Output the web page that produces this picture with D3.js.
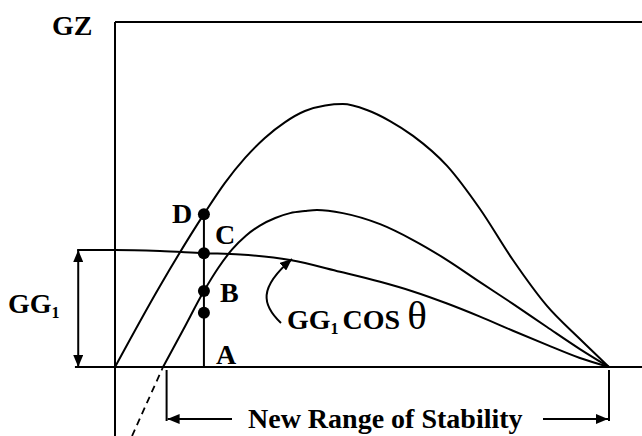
<!DOCTYPE html>
<html>
<head>
<meta charset="utf-8">
<script src="https://d3js.org/d3.v7.min.js"></script>
<style>
  body { margin: 0; background: #fff; }
  text { font-family: "Liberation Serif", "Times New Roman", serif; fill: #000; }
</style>
</head>
<body>
<div id="chart"></div>
<script>
// Heel angle (deg) and GZ values
var upperAngle = [0, 8.2, 16.2, 20.0, 23.7, 27.3, 31.0, 34.6, 38.3, 41.5, 45.9, 50.1, 54.3, 60.5, 66.5, 72.5, 78.7, 84.7, 90];
var upperGZ    = [0, 0.235, 0.443, 0.533, 0.606, 0.664, 0.71, 0.742, 0.758, 0.762, 0.745, 0.713, 0.67, 0.583, 0.458, 0.31, 0.177, 0.081, 0];

var lowerAngle = [8.75, 12.4, 16.2, 18.8, 21.3, 23.9, 26.4, 29.2, 31.9, 34.6, 36.8, 41.5, 48.3, 54.3, 60.5, 66.5, 72.5, 78.7, 84.7, 90];
var lowerGZ    = [0, 0.107, 0.22, 0.287, 0.34, 0.381, 0.41, 0.432, 0.446, 0.452, 0.455, 0.446, 0.414, 0.368, 0.31, 0.246, 0.183, 0.116, 0.052, 0];

// dashed extension of the lower curve below the axis
var dashAngle = [3.1, 8.75];
var dashGZ    = [-0.2, 0];

var cosAngle = [-6.9, 0, 8.2, 16.2, 22.8, 31.9, 41.0, 48.3, 54.3, 60.5, 66.5, 72.5, 78.7, 84.7, 90];
var cosGZ    = [0.339, 0.339, 0.336, 0.33, 0.326, 0.31, 0.276, 0.247, 0.219, 0.184, 0.146, 0.105, 0.064, 0.026, 0];

// points on the vertical at the chosen heel angle
var markAngle = 16.2;
var markNames = ["D", "C", "B", ""];
var markGZ    = [0.443, 0.33, 0.22, 0.157];

var gg1 = 0.339;
var newRange = [9.4, 90];

var width = 642, height = 436;

var svg = d3.select("#chart").append("svg")
    .attr("width", width)
    .attr("height", height);

var x = d3.scaleLinear().domain([0, 90]).range([115, 609]);
var y = d3.scaleLinear().domain([0, 1]).range([367, 22]);

var defs = svg.append("defs");
defs.append("marker")
    .attr("id", "arr")
    .attr("viewBox", "0 0 12 10")
    .attr("refX", 12)
    .attr("refY", 5)
    .attr("markerWidth", 12)
    .attr("markerHeight", 10)
    .attr("markerUnits", "userSpaceOnUse")
    .attr("orient", "auto-start-reverse")
    .append("path")
    .attr("d", "M0,0 L12,5 L0,10 Z")
    .attr("fill", "#000");

function zip(a, b) { return a.map(function (v, i) { return [v, b[i]]; }); }

var line = d3.line()
    .x(function (d) { return x(d[0]); })
    .y(function (d) { return y(d[1]); })
    .curve(d3.curveMonotoneX);
var straight = d3.line()
    .x(function (d) { return x(d[0]); })
    .y(function (d) { return y(d[1]); });

// frame: top edge and GZ axis
svg.append("line")
    .attr("x1", x(0)).attr("x2", width)
    .attr("y1", y(1)).attr("y2", y(1))
    .attr("stroke", "#000").attr("stroke-width", 2);
svg.append("line")
    .attr("x1", x(0)).attr("x2", x(0))
    .attr("y1", y(1)).attr("y2", height)
    .attr("stroke", "#000").attr("stroke-width", 2);
// heel axis
svg.append("line")
    .attr("x1", x(-7.3)).attr("x2", width)
    .attr("y1", y(0)).attr("y2", y(0))
    .attr("stroke", "#000").attr("stroke-width", 2.2);

// curves
svg.append("path").attr("d", line(zip(upperAngle, upperGZ)))
    .attr("fill", "none").attr("stroke", "#000").attr("stroke-width", 2);
svg.append("path").attr("d", line(zip(lowerAngle, lowerGZ)))
    .attr("fill", "none").attr("stroke", "#000").attr("stroke-width", 2);
svg.append("path").attr("d", straight(zip(dashAngle, dashGZ)))
    .attr("fill", "none").attr("stroke", "#000").attr("stroke-width", 1.8)
    .attr("stroke-dasharray", "7,5");
svg.append("path").attr("d", line(zip(cosAngle, cosGZ)))
    .attr("fill", "none").attr("stroke", "#000").attr("stroke-width", 2);

// vertical through A-B-C-D
svg.append("line")
    .attr("x1", x(markAngle)).attr("x2", x(markAngle))
    .attr("y1", y(0)).attr("y2", y(markGZ[0]))
    .attr("stroke", "#000").attr("stroke-width", 2);
svg.selectAll("circle.mark")
    .data(markGZ)
    .enter()
    .append("circle")
    .attr("class", "mark")
    .attr("cx", x(markAngle))
    .attr("cy", function (d) { return y(d); })
    .attr("r", 6)
    .attr("fill", "#000");

// point labels
var labelOffset = { "D": [-32, 9], "C": [11, -9], "B": [16, 11] };
svg.selectAll("text.mark")
    .data(markNames.filter(function (d) { return d; }))
    .enter()
    .append("text")
    .attr("class", "mark")
    .attr("x", function (d) { return x(markAngle) + labelOffset[d][0]; })
    .attr("y", function (d, i) { return y(markGZ[i]) + labelOffset[d][1]; })
    .attr("font-size", 28).attr("font-weight", "bold")
    .text(function (d) { return d; });
svg.append("text")
    .attr("x", x(markAngle) + 12).attr("y", y(0) - 3)
    .attr("font-size", 28).attr("font-weight", "bold")
    .text("A");

// GG1 double arrow
svg.append("line")
    .attr("x1", x(-6.7)).attr("x2", x(-6.7))
    .attr("y1", y(gg1)).attr("y2", y(0))
    .attr("stroke", "#000").attr("stroke-width", 2)
    .attr("marker-start", "url(#arr)")
    .attr("marker-end", "url(#arr)");

svg.append("text").attr("x", 8).attr("y", 313)
    .attr("font-size", 28).attr("font-weight", "bold")
    .text("GG").append("tspan").attr("font-size", 16).attr("dy", 5).text("1");

svg.append("text").attr("x", 52).attr("y", 35)
    .attr("font-size", 28).attr("font-weight", "bold")
    .text("GZ");

// GG1 cos θ label with curved pointer
var lab = svg.append("text").attr("x", 287).attr("y", 329)
    .attr("font-size", 28).attr("font-weight", "bold");
lab.append("tspan").text("GG");
lab.append("tspan").attr("font-size", 16).attr("dy", 5).text("1");
lab.append("tspan").attr("dy", -5).attr("dx", 4).text("COS ");
lab.append("tspan").attr("font-weight", "normal").attr("font-size", 41).text("θ");

svg.append("path")
    .attr("d", "M281,323 C262,305 258,288 292,259")
    .attr("fill", "none").attr("stroke", "#000").attr("stroke-width", 2)
    .attr("marker-end", "url(#arr)");

// New range of stability
var ry = 419;
svg.append("line")
    .attr("x1", x(newRange[0])).attr("x2", x(newRange[0]))
    .attr("y1", y(0) + 3).attr("y2", ry + 2)
    .attr("stroke", "#000").attr("stroke-width", 2);
svg.append("line")
    .attr("x1", x(newRange[1])).attr("x2", x(newRange[1]))
    .attr("y1", y(0) + 3).attr("y2", ry + 2)
    .attr("stroke", "#000").attr("stroke-width", 2);
svg.append("line")
    .attr("x1", 232).attr("x2", x(newRange[0]) + 1)
    .attr("y1", ry).attr("y2", ry)
    .attr("stroke", "#000").attr("stroke-width", 2)
    .attr("marker-end", "url(#arr)");
svg.append("line")
    .attr("x1", 543).attr("x2", x(newRange[1]) - 1)
    .attr("y1", ry).attr("y2", ry)
    .attr("stroke", "#000").attr("stroke-width", 2)
    .attr("marker-end", "url(#arr)");
svg.append("text").attr("x", 248).attr("y", 428)
    .attr("font-size", 28).attr("font-weight", "bold")
    .text("New Range of Stability");
</script>
</body>
</html>
